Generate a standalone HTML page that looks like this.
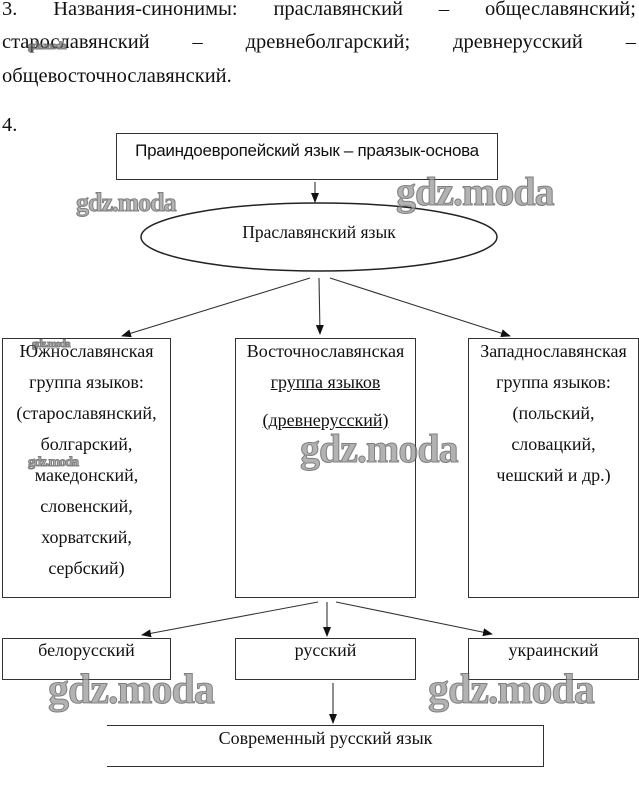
<!DOCTYPE html>
<html><head><meta charset="utf-8"><style>
body{margin:0;width:639px;height:802px;background:#fff;position:relative;overflow:hidden;font-family:"Liberation Serif",serif;color:#111}
.p{position:absolute;left:2px;width:634px;font-size:20.5px;white-space:nowrap}
.b{position:absolute;border:1.3px solid #333;box-sizing:border-box}
.t{position:absolute;font-size:18px;text-align:center;white-space:nowrap}
.col{position:absolute;font-size:18px;text-align:center;line-height:31px;white-space:nowrap}
.wm{position:absolute;font-family:"Liberation Serif",serif;font-weight:bold;color:#999;letter-spacing:-1px;-webkit-text-stroke:1px #555;opacity:.75}
</style></head><body>
<div class="p" style="top:-2px;display:flex;justify-content:space-between"><span>3.</span><span>Названия-синонимы:</span><span>праславянский</span><span>–</span><span>общеславянский;</span></div>
<div class="p" style="top:31px;display:flex;justify-content:space-between"><span>старославянский</span><span>–</span><span>древнеболгарский;</span><span>древнерусский</span><span>–</span></div>
<div class="p" style="top:65px">общевосточнославянский.</div>
<div class="p" style="top:114px">4.</div>

<div class="b" style="left:116px;top:133px;width:382px;height:47px"></div>
<div class="t" style="left:116px;width:382px;top:141px;font-family:'Liberation Sans',sans-serif;font-size:17px;letter-spacing:-0.3px">Праиндоевропейский язык – праязык-основа</div>

<svg style="position:absolute;left:0;top:0" width="639" height="802">
<defs><marker id="a" markerWidth="10" markerHeight="10" refX="9" refY="5" orient="auto" markerUnits="userSpaceOnUse"><path d="M0,1 L10,5 L0,9 z" fill="#111"/></marker></defs>
<ellipse cx="319" cy="237" rx="178" ry="34" fill="none" stroke="#222" stroke-width="1.5"/>
<g stroke="#333" stroke-width="1.1" marker-end="url(#a)">
<line x1="315" y1="182" x2="315" y2="202"/>
<line x1="310" y1="278" x2="122" y2="336"/>
<line x1="319" y1="278" x2="320" y2="334"/>
<line x1="330" y1="278" x2="510" y2="336"/>
<line x1="318" y1="602" x2="142" y2="635"/>
<line x1="327" y1="602" x2="327" y2="636"/>
<line x1="336" y1="602" x2="492" y2="634"/>
<line x1="333" y1="683" x2="333" y2="723"/>
</g>
</svg>
<div class="t" style="left:140px;width:358px;top:222px;font-size:17.5px">Праславянский язык</div>

<div class="b" style="left:2px;top:338px;width:169px;height:260px"></div>
<div class="b" style="left:235px;top:338px;width:181px;height:260px"></div>
<div class="b" style="left:468px;top:338px;width:171px;height:260px"></div>
<div class="col" style="left:2px;width:169px;top:336px">Южнославянская<br>группа языков:<br>(старославянский,<br>болгарский,<br>македонский,<br>словенский,<br>хорватский,<br>сербский)</div>
<div class="col" style="left:235px;width:181px;top:336px">Восточнославянская<br><u>группа языков</u><br><span style="position:relative;top:7px"><u>(древнерусский)</u></span></div>
<div class="col" style="left:468px;width:171px;top:336px">Западнославянская<br>группа языков:<br>(польский,<br>словацкий,<br>чешский и др.)</div>

<div class="b" style="left:2px;top:638px;width:169px;height:42px"></div>
<div class="b" style="left:235px;top:638px;width:181px;height:42px"></div>
<div class="b" style="left:468px;top:638px;width:171px;height:42px"></div>
<div class="t" style="left:2px;width:169px;top:640px">белорусский</div>
<div class="t" style="left:235px;width:181px;top:640px">русский</div>
<div class="t" style="left:468px;width:171px;top:640px">украинский</div>

<div class="b" style="left:107px;top:725px;width:437px;height:42px;border-left:none"></div>
<div class="t" style="left:107px;width:437px;top:728px">Современный русский язык</div>

<div class="wm" style="left:76px;top:188px;font-size:26px">gdz.moda</div>
<div class="wm" style="left:396px;top:168px;font-size:40px">gdz.moda</div>
<div class="wm" style="left:300px;top:425px;font-size:40px">gdz.moda</div>
<div class="wm" style="left:28px;top:455px;font-size:14px">gdz.moda</div>
<div class="wm" style="left:32px;top:338px;font-size:11px">gdz.moda</div>
<div class="wm" style="left:28px;top:40px;font-size:11px">gdz.moda</div>
<div class="wm" style="left:48px;top:666px;font-size:42px">gdz.moda</div>
<div class="wm" style="left:428px;top:666px;font-size:42px">gdz.moda</div>
</body></html>
